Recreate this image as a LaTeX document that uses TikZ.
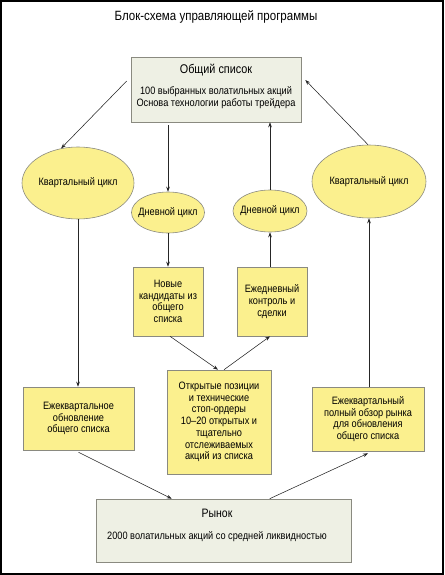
\documentclass[tikz,border=0pt]{standalone}
\usepackage{fontspec}
\setmainfont{Liberation Sans}[FakeStretch=0.86]
\usetikzlibrary{shapes.geometric,arrows.meta,calc}
\definecolor{boxyellow}{HTML}{FBF08E}
\definecolor{boxgreen}{HTML}{EEF0E4}
\definecolor{edgegrey}{HTML}{8A8A80}
\tikzset{
  yelbox/.style={draw=edgegrey,fill=boxyellow,line width=0.6pt,inner sep=0pt,align=center,font=\fontsize{10.7}{11.7}\selectfont},
  grnbox/.style={draw=edgegrey,fill=boxgreen,line width=0.6pt,inner sep=0pt},
  yelell/.style={ellipse,draw=edgegrey,fill=boxyellow,line width=0.6pt,inner sep=0pt},
  txt/.style={inner sep=0pt,align=center,font=\fontsize{10.7}{12}\selectfont},
  arr/.style={draw=black!85,line width=0.55pt,-{Stealth[length=5pt,width=3.6pt]}}
}
\begin{document}
\begin{tikzpicture}[x=1pt,y=-1pt]
\useasboundingbox (0,0) rectangle (444,575);
\draw[line width=1.3pt] (1,1) rectangle (443,574);
\node[txt,font=\fontsize{13.4}{14}\selectfont] (title) at (216,17) {Блок-схема управляющей программы};
% top box
\node[grnbox,minimum width=170pt,minimum height=65pt] (top) at (216,89.5) {};
\node[txt,font=\fontsize{12.6}{14}\selectfont] (toph) at (216,70) {Общий список};
\node[txt] (topt) at (216,98) {100 выбранных волатильных акций\\Основа технологии работы трейдера};
% ellipses
\node[yelell,minimum width=112pt,minimum height=72pt,label={[txt]center:Квартальный цикл}] (lq) at (78,183) {};
\node[yelell,minimum width=73pt,minimum height=41pt,label={[txt]center:Дневной цикл}] (ld) at (168,212.5) {};
\node[yelell,minimum width=74pt,minimum height=42pt,label={[txt]center:Дневной цикл}] (rd) at (270,211) {};
\node[yelell,minimum width=114pt,minimum height=73pt,label={[txt]center:Квартальный цикл}] (rq) at (369,181.5) {};
% middle boxes
\node[yelbox,minimum width=70pt,minimum height=69pt] (nov) at (168,301.5) {Новые\\кандидаты из\\общего\\списка};
\node[yelbox,minimum width=70pt,minimum height=69pt] (ed) at (272,301.5) {Ежедневный\\контроль и\\сделки};
% lower boxes
\node[yelbox,minimum width=111pt,minimum height=63pt] (lb) at (78.5,418.5) {Ежеквартальное\\обновление\\общего списка};
\node[yelbox,minimum width=104pt,minimum height=104pt] (op) at (219,422) {Открытые позиции\\и технические\\стоп-ордеры\\10–20 открытых и\\тщательно\\отслеживаемых\\акций из списка};
\node[yelbox,minimum width=112pt,minimum height=64pt] (rb) at (368,419) {Ежеквартальный\\полный обзор рынка\\для обновления\\общего списка};
% market
\node[grnbox,minimum width=255pt,minimum height=63pt] (mk) at (223.5,530.5) {};
\node[txt,font=\fontsize{12.2}{14}\selectfont] (mkh) at (217,513) {Рынок};
\node[txt] (mkt) at (217,537) {2000 волатильных акций со средней ликвидностью};
% connectors
\draw[arr] ($(top.west)+(-4,-8.5)$) -- (lq.116);
\draw[arr] ($(rq.north)+(-1,0)$) -- ($(top.east)+(4,-9.5)$);
\draw[arr,shorten <=3pt] (top.south -| ld.north) -- (ld.north);
\draw[arr] (rd.north) -- (rd.north |- top.south);
\draw[arr] (ld.south) -- (nov.north);
\draw[arr] (ed.north -| rd.south) -- (rd.south);
\draw[arr] ($(nov.south)+(2,0)$) -- ($(op.north)+(-1,0)$);
\draw[arr] ($(op.north)+(5,0)$) -- ($(ed.south)+(-2,0)$);
\draw[arr] (lq.south) -- (lq.south |- lb.north);
\draw[arr] (rb.north -| rq.south) -- (rq.south);
\draw[arr] ($(lb.south)+(0,2)$) -- ($(mk.north west)+(76,0)$);
\draw[arr] ($(mk.north west)+(174,0)$) -- ($(rb.south)+(0,2)$);
\end{tikzpicture}
\end{document}
